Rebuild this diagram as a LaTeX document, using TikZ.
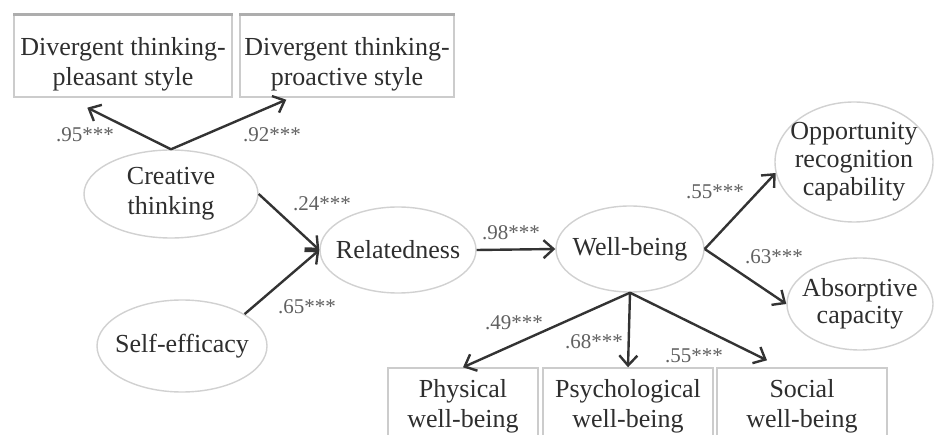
\documentclass[tikz,border=0pt]{standalone}
\usepackage{fontspec}
\setmainfont{Liberation Serif}
\usetikzlibrary{arrows.meta,calc,shapes.geometric}
\begin{document}
\begin{tikzpicture}[x=1pt,y=-1pt,
 lat/.style={ellipse,draw=black!18,line width=1.4pt,inner sep=-30pt,align=center,text=black!82,font=\fontsize{26}{30}\selectfont},
 obs/.style={rectangle,draw=black!20,line width=1.4pt,inner sep=0pt,align=center,text=black!82,font=\fontsize{26}{30}\selectfont},
 topedge/.style={draw=black!32,line width=3pt},
 arr/.style={draw=black!80,line width=2.4pt,-{Straight Barb[length=10pt,width=18pt]}},
 coef/.style={text=black!62,font=\fontsize{21}{24}\selectfont,inner sep=0pt}]
\fill[white] (0,0) rectangle (934,435);
\useasboundingbox (0,0) rectangle (934,435);

% indicator boxes (top)
\node[obs,minimum width=218pt,minimum height=82pt] (dp) at (123,56) {\rule{0pt}{34pt}Divergent thinking-\\pleasant style};
\node[obs,minimum width=214pt,minimum height=82pt] (dpa) at (347,56) {\rule{0pt}{34pt}Divergent thinking-\\proactive style};
\draw[topedge] (dp.north west) -- (dp.north east);
\draw[topedge] (dpa.north west) -- (dpa.north east);

% latent variables
\node[lat,minimum width=174pt,minimum height=88pt] (ct) at (171,194) {Creative\\thinking};
\node[lat,minimum width=156pt,minimum height=86pt] (rel) at (398,250) {Relatedness};
\node[lat,minimum width=170pt,minimum height=92pt] (se) at (182,346) {Self-efficacy};
\node[lat,minimum width=148pt,minimum height=86pt] (wb) at (630,249) {Well-being};
\node[lat,minimum width=158pt,minimum height=120pt,font=\fontsize{26}{28}\selectfont] (orc) at (854,162) {Opportunity\\recognition\\capability};
\node[lat,minimum width=146pt,minimum height=92pt,font=\fontsize{26}{27}\selectfont] (ac) at (860,304) {Absorptive\\capacity};

% indicator boxes (bottom)
\node[obs,minimum width=150pt,minimum height=76pt] (pw) at (463,406) {Physical\\well-being};
\node[obs,minimum width=170pt,minimum height=76pt] (psw) at (628,406) {Psychological\\well-being};
\node[obs,minimum width=170pt,minimum height=76pt] (sw) at (802,406) {Social\\well-being};

% paths
\draw[arr] (ct.north) -- ($(dp.south west)+(74,10)$);
\draw[arr] (ct.north) -- ($(dpa.south west)+(47,2)$);
\draw[arr] (ct.east) -- (rel.west);
\draw[arr] (se.27) -- (rel.west);
\draw[arr] (rel.east) -- (wb.west);
\draw[arr] (wb.east) -- (orc.188);
\draw[arr] (wb.east) -- (ac.west);
\draw[arr] (wb.south) -- (pw.north);
\draw[arr] (wb.south) -- (psw.north);
\draw[arr] (wb.south) -- ($(sw.north)+(-35,-7)$);

% coefficients
\node[coef] (c95) at (85,135) {.95***};
\node[coef] (c92) at (272,135) {.92***};
\node[coef] (c24) at (322,204) {.24***};
\node[coef] (c65) at (307,307) {.65***};
\node[coef] (c98) at (511,233) {.98***};
\node[coef] (c55a) at (715,192) {.55***};
\node[coef] (c63) at (774,257) {.63***};
\node[coef] (c49) at (514,323) {.49***};
\node[coef] (c68) at (594,342) {.68***};
\node[coef] (c55b) at (694,356) {.55***};
\end{tikzpicture}
\end{document}
